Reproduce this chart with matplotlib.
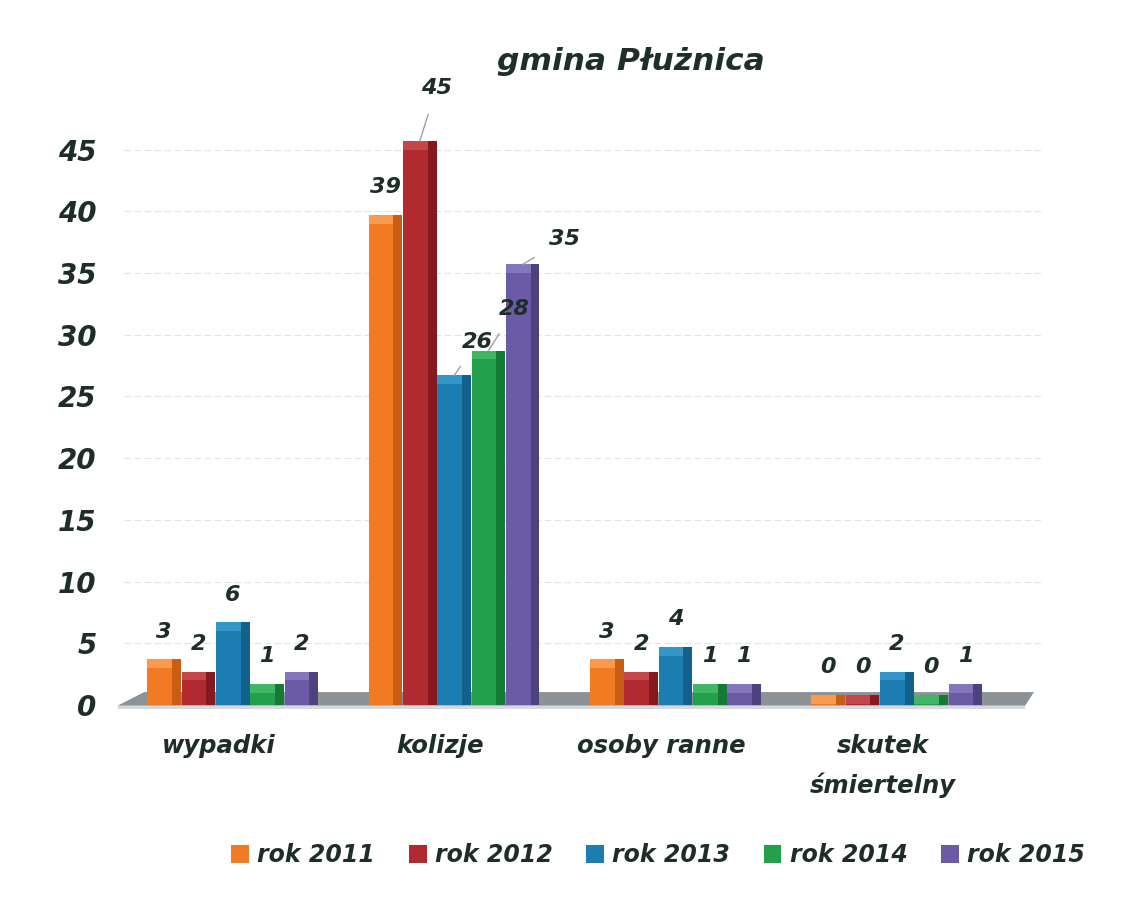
import matplotlib
matplotlib.use("Agg")
import matplotlib.pyplot as plt
from matplotlib.patches import Patch, Polygon
import numpy as np

title = "gmina Płużnica"
categories = ["wypadki", "kolizje", "osoby ranne", "skutek\nśmiertelny"]
series_names = ["rok 2011", "rok 2012", "rok 2013", "rok 2014", "rok 2015"]
values = {
    "rok 2011": [3, 39, 3, 0],
    "rok 2012": [2, 45, 2, 0],
    "rok 2013": [6, 26, 4, 2],
    "rok 2014": [1, 28, 1, 0],
    "rok 2015": [2, 35, 1, 1],
}
yticks = [0, 5, 10, 15, 20, 25, 30, 35, 40, 45]

colors = ["#f27a22", "#b02a30", "#1b7db2", "#22a04c", "#6b5ba6"]
side_colors = ["#c95d12", "#86191e", "#12608c", "#167a37", "#4d4180"]
cap_colors = ["#f89a4f", "#c2474c", "#3596c8", "#43b566", "#8476bb"]
txt = "#1f2d2a"
font = dict(family="DejaVu Sans", weight="bold", style="italic")

fig = plt.figure(figsize=(11.25, 8.97), dpi=100)
ax = fig.add_axes([0.102, 0.214, 0.823, 0.688])
ax.set_xlim(-0.533, 3.65)
ax.set_ylim(0, 50)

# floor
floor_dark = Polygon([[-0.52, -0.05], [-0.40, 1.05], [3.62, 1.05], [3.58, -0.05]],
                     closed=True, facecolor="#8d9296", edgecolor="none", zorder=1, clip_on=False)
floor_light = Polygon([[-0.52, -0.05], [3.58, -0.05], [3.58, -0.35], [-0.52, -0.35]],
                      closed=True, facecolor="#d6d9de", edgecolor="none", zorder=1, clip_on=False)
ax.add_patch(floor_dark)
ax.add_patch(floor_light)

# grid
for t in yticks[1:]:
    ax.axhline(t, color="#e3e3e3", lw=0.8, ls=(0, (6, 3)), zorder=0, xmin=0.01, xmax=1.0)

x = np.arange(len(categories))
w = 0.155
cap = 0.7
label_offsets = {
    (1, 1): (12, 38),
    (1, 4): (30, 18),
    (1, 2): (17, 24),
    (1, 3): (19, 30),
}
for j, name in enumerate(series_names):
    vals = np.array(values[name], dtype=float)
    xs = x + (j - 2) * w
    shown = np.where(vals == 0, 0.1, vals)
    ax.bar(xs, shown, width=w * 0.98, color=colors[j], edgecolor="none", zorder=3)
    ax.bar(xs, cap, bottom=shown, width=w * 0.98, color=cap_colors[j], edgecolor="none", zorder=3)
    ax.bar(xs + w * 0.36, shown + cap, width=w * 0.26, color=side_colors[j], edgecolor="none", zorder=3)
    for i, v in enumerate(vals):
        key = (i, j)
        top = shown[i] + cap
        if key in label_offsets:
            dx, dy = label_offsets[key]
            ax.annotate(f"{int(v)}", xy=(xs[i], top), xytext=(dx, dy),
                        textcoords="offset points", ha="center", va="center",
                        fontsize=16, color=txt, zorder=6, **font,
                        arrowprops=dict(arrowstyle="-", color="#a0a0a0", lw=1.0,
                                        shrinkA=10, shrinkB=0))
        else:
            ax.annotate(f"{int(v)}", xy=(xs[i], top), xytext=(0, 20),
                        textcoords="offset points", ha="center", va="center",
                        fontsize=16, color=txt, zorder=6, **font)

ax.set_xticks(x - 0.063)
ax.set_xticklabels(categories, fontsize=17.5, color=txt, **font, linespacing=1.7)
ax.set_yticks(yticks)
ax.set_yticklabels([str(t) for t in yticks], fontsize=20, color=txt, **font)
ax.tick_params(axis="both", length=0)
ax.tick_params(axis="x", pad=21)
ax.tick_params(axis="y", pad=13)
for s in ax.spines.values():
    s.set_visible(False)

fig.text(0.561, 0.931, title, ha="center", va="center", fontsize=22.5, color="#1e2f2b", **font)

handles = [Patch(facecolor=c, edgecolor="none") for c in colors]
leg = fig.legend(handles, series_names, loc="center", bbox_to_anchor=(0.585, 0.047),
                 ncol=5, frameon=False, handlelength=0.75, handleheight=0.8,
                 handletextpad=0.35, columnspacing=1.42,
                 prop=dict(family="DejaVu Sans", weight="bold", style="italic", size=17))
for t in leg.get_texts():
    t.set_color(txt)

fig.savefig("out.png", dpi=100, facecolor="white")
